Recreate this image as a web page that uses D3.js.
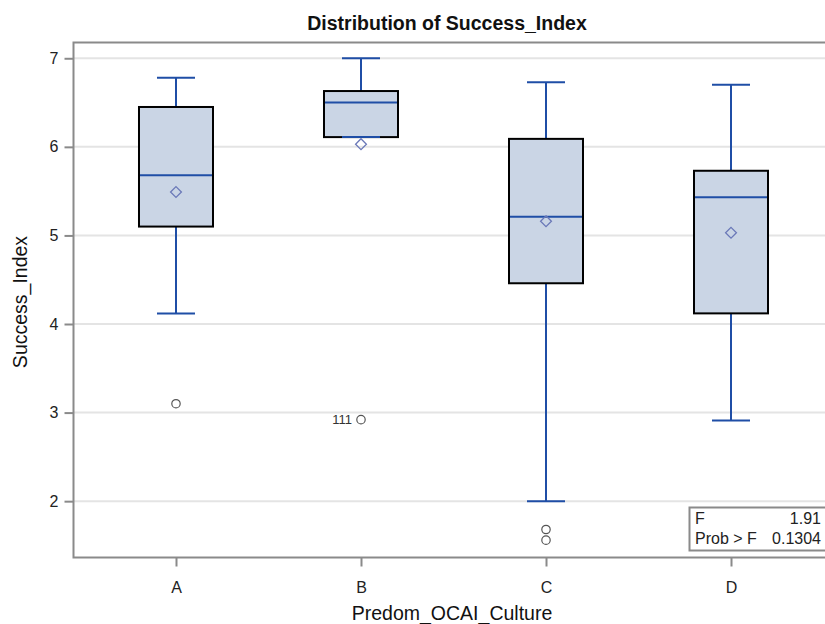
<!DOCTYPE html>
<html>
<head>
<meta charset="utf-8">
<script src="https://cdn.jsdelivr.net/npm/d3@7"></script>
<style>
	body { margin: 0; background: #fff; }
	text { font-family: "Liberation Sans", Arial, sans-serif; }
</style>
</head>
<body>
<svg id="chart" width="825" height="624"></svg>
<script>
// values
const categories = ["A", "B", "C", "D"];
const whiskerHigh = [6.78, 7.0, 6.73, 6.70];
const q3 = [6.45, 6.63, 6.09, 5.73];
const median = [5.68, 6.50, 5.21, 5.43];
const mean = [5.49, 6.03, 5.16, 5.03];
const q1 = [5.10, 6.11, 4.46, 4.12];
const whiskerLow = [4.12, 6.11, 2.0, 2.91];
const outliers = [
	{ cat: "A", value: 3.10, label: "" },
	{ cat: "B", value: 2.92, label: "111" },
	{ cat: "C", value: 1.68, label: "" },
	{ cat: "C", value: 1.56, label: "" }
];
const yTicks = [2, 3, 4, 5, 6, 7];
const statsLabels = ["F", "Prob > F"];
const statsValues = ["1.91", "0.1304"];

const boxes = categories.map((c, i) => ({
	cat: c, hi: whiskerHigh[i], q3: q3[i], med: median[i], mean: mean[i], q1: q1[i], lo: whiskerLow[i]
}));

const svg = d3.select("#chart");
const plotL = 73.5, plotT = 42.5, plotR = 833.5, plotB = 557.5;

const x = d3.scalePoint()
	.domain(categories)
	.range([plotL, plotR])
	.padding(0.554);

const y = d3.scaleLinear()
	.domain([1.364, 7.178])
	.range([plotB, plotT]);

const boxW = 74, capW = 38;

// grid
svg.append("g")
	.selectAll("line")
	.data(yTicks)
	.enter().append("line")
	.attr("x1", plotL).attr("x2", plotR)
	.attr("y1", d => y(d)).attr("y2", d => y(d))
	.attr("stroke", "#e4e4e4")
	.attr("stroke-width", 2);

// boxes
const g = svg.append("g")
	.selectAll("g")
	.data(boxes)
	.enter().append("g");

g.append("line")
	.attr("x1", d => x(d.cat)).attr("x2", d => x(d.cat))
	.attr("y1", d => y(d.hi)).attr("y2", d => y(d.q3))
	.attr("stroke", "#1f4ea6").attr("stroke-width", 2);
g.append("line")
	.attr("x1", d => x(d.cat)).attr("x2", d => x(d.cat))
	.attr("y1", d => y(d.q1)).attr("y2", d => y(d.lo))
	.attr("stroke", "#1f4ea6").attr("stroke-width", 2);
g.append("line")
	.attr("x1", d => x(d.cat) - capW / 2).attr("x2", d => x(d.cat) + capW / 2)
	.attr("y1", d => y(d.hi)).attr("y2", d => y(d.hi))
	.attr("stroke", "#1f4ea6").attr("stroke-width", 2);

g.append("rect")
	.attr("x", d => x(d.cat) - boxW / 2)
	.attr("y", d => y(d.q3))
	.attr("width", boxW)
	.attr("height", d => y(d.q1) - y(d.q3))
	.attr("fill", "#cad5e5")
	.attr("stroke", "#000")
	.attr("stroke-width", 2);

g.append("line")
	.attr("x1", d => x(d.cat) - capW / 2).attr("x2", d => x(d.cat) + capW / 2)
	.attr("y1", d => y(d.lo)).attr("y2", d => y(d.lo))
	.attr("stroke", "#1f4ea6").attr("stroke-width", 2);

g.append("line")
	.attr("x1", d => x(d.cat) - boxW / 2 + 1).attr("x2", d => x(d.cat) + boxW / 2 - 1)
	.attr("y1", d => y(d.med)).attr("y2", d => y(d.med))
	.attr("stroke", "#1f4ea6").attr("stroke-width", 2);

g.append("path")
	.attr("d", d3.symbol().type(d3.symbolDiamond2).size(75))
	.attr("transform", d => "translate(" + x(d.cat) + "," + y(d.mean) + ")")
	.attr("fill", "none")
	.attr("stroke", "#6a78b8")
	.attr("stroke-width", 1.3);

// outliers
svg.append("g")
	.selectAll("circle")
	.data(outliers)
	.enter().append("circle")
	.attr("cx", d => x(d.cat))
	.attr("cy", d => y(d.value))
	.attr("r", 4.2)
	.attr("fill", "none")
	.attr("stroke", "#555")
	.attr("stroke-width", 1.2);

svg.append("g")
	.selectAll("text")
	.data(outliers.filter(d => d.label))
	.enter().append("text")
	.attr("x", d => x(d.cat) - 9)
	.attr("y", d => y(d.value))
	.attr("dy", "0.35em")
	.attr("text-anchor", "end")
	.attr("font-size", 13)
	.attr("fill", "#333")
	.text(d => d.label);

// frame
svg.append("rect")
	.attr("x", plotL).attr("y", plotT)
	.attr("width", plotR - plotL).attr("height", plotB - plotT)
	.attr("fill", "none")
	.attr("stroke", "#8a8a8a")
	.attr("stroke-width", 2);

// axes
const yAxis = svg.append("g")
	.attr("transform", "translate(" + plotL + ",0)")
	.call(d3.axisLeft(y).tickValues(yTicks).tickFormat(d3.format("d")).tickSize(9).tickPadding(6));
const xAxis = svg.append("g")
	.attr("transform", "translate(0," + plotB + ")")
	.call(d3.axisBottom(x).tickSize(9).tickPadding(15));
[yAxis, xAxis].forEach(a => {
	a.attr("font-size", 16).attr("font-family", null);
	a.select(".domain").remove();
	a.selectAll(".tick line").attr("stroke", "#8a8a8a").attr("stroke-width", 2);
	a.selectAll(".tick text").attr("fill", "#222");
});

// stats inset
const inset = svg.append("g");
inset.append("rect")
	.attr("x", 689.5).attr("y", 507.5)
	.attr("width", 140).attr("height", 43)
	.attr("fill", "#fff")
	.attr("stroke", "#8a8a8a")
	.attr("stroke-width", 2);
inset.selectAll(".lab")
	.data(statsLabels)
	.enter().append("text")
	.attr("class", "lab")
	.attr("x", 695)
	.attr("y", (d, i) => 524 + i * 20)
	.attr("font-size", 16)
	.attr("fill", "#222")
	.text(d => d);
inset.selectAll(".val")
	.data(statsValues)
	.enter().append("text")
	.attr("class", "val")
	.attr("x", 821)
	.attr("y", (d, i) => 524 + i * 20)
	.attr("text-anchor", "end")
	.attr("font-size", 16)
	.attr("fill", "#222")
	.text(d => d);

// titles
svg.append("text")
	.attr("x", 447)
	.attr("y", 30)
	.attr("text-anchor", "middle")
	.attr("font-size", 19.5)
	.attr("font-weight", "bold")
	.attr("fill", "#111")
	.text("Distribution of Success_Index");

svg.append("text")
	.attr("x", 452)
	.attr("y", 620)
	.attr("text-anchor", "middle")
	.attr("font-size", 19.5)
	.attr("fill", "#111")
	.text("Predom_OCAI_Culture");

svg.append("text")
	.attr("transform", "translate(27,302) rotate(-90)")
	.attr("text-anchor", "middle")
	.attr("font-size", 19.5)
	.attr("fill", "#111")
	.text("Success_Index");
</script>
</body>
</html>
